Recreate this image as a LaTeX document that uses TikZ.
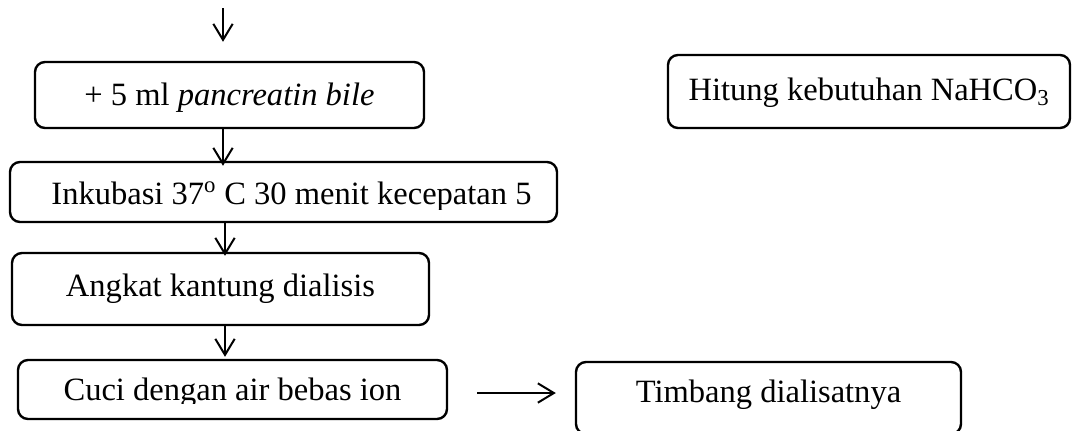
\documentclass[tikz,border=0pt]{standalone}
\usepackage{fontspec}
\setmainfont{Liberation Serif}
\usetikzlibrary{arrows.meta,calc}
\begin{document}
\begin{tikzpicture}[x=0.75pt,y=-0.75pt,
  box/.style={draw, line width=1.8pt, rounded corners=7.5pt, inner sep=0pt, anchor=center},
  txt/.style={inner sep=0pt, font=\fontsize{24.4pt}{29pt}\selectfont, text height=16.1pt, text depth=0pt, anchor=center},
  arr/.style={line width=1.5pt, -{Straight Barb[length=12pt,width=14.5pt,line width=1.5pt]}}]
\useasboundingbox (0,0) rectangle (1073,430);
\clip (0,0) rectangle (1073,430);
% boxes
\node[box, minimum width=291.75pt, minimum height=49.5pt] (b1) at (229.5,95) {};
\node[box, minimum width=410.25pt, minimum height=45pt] (b2) at (283.5,192) {};
\node[box, minimum width=312.75pt, minimum height=54pt] (b3) at (220.5,289) {};
\node[box, minimum width=321.75pt, minimum height=44.25pt] (b4) at (232.5,389.5) {};
\node[box, minimum width=301.5pt, minimum height=54.75pt] (b5) at (869,91.5) {};
\node[box, minimum width=288.75pt, minimum height=54pt] (b6) at (768.5,398) {};
% texts
\node[txt] (t1) at (b1.center) {+ 5 ml \textit{pancreatin bile}};
\begin{scope}
  \clip (b2.north west) rectangle ($(b2.south east)+(0,-14)$);
  \node[txt] (t2) at ($(b2.center)+(8,2)$) {Inkubasi 37\textsuperscript{o} C 30 menit kecepatan 5};
\end{scope}
\node[txt] (t3) at ($(b3.center)+(0,-3)$) {Angkat kantung dialisis};
\begin{scope}
  \clip (b4.north west) rectangle ($(b4.south east)+(0,-17)$);
  \node[txt] (t4) at (b4.center) {Cuci dengan air bebas ion};
\end{scope}
\node[txt] (t5) at ($(b5.center)+(0,-2)$) {Hitung kebutuhan NaHCO\textsubscript{3}};
\node[txt] (t6) at ($(b6.center)+(0,-6)$) {Timbang dialisatnya};
% connectors
\coordinate (in) at (223,8);
\draw[arr] (in) -- ($(b1.north -| in)+(0,-19)$);
\draw[arr] (b1.south -| in) -- ($(b2.north -| in)+(0,5)$);
\coordinate (c3) at (225,0);
\draw[arr] (b2.south -| c3) -- ($(b3.north -| c3)+(0,4)$);
\draw[arr] (b3.south -| c3) -- ($(b4.north -| c3)+(0,-2)$);
\draw[arr] ($(b4.east)+(29,3.5)$) -- ($(b4.east -| b6.west)+(-19,3.5)$);
\end{tikzpicture}
\end{document}
